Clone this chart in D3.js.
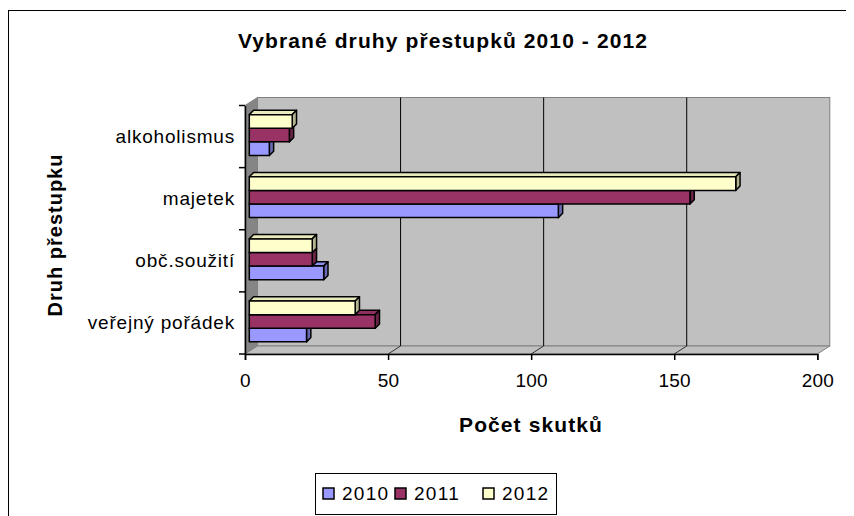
<!DOCTYPE html>
<html>
<head>
<meta charset="utf-8">
<script src="https://cdn.jsdelivr.net/npm/d3@7"></script>
<style>
  body { margin: 0; background: #fff; }
  svg { display: block; font-family: "Liberation Sans", Arial, sans-serif; }
</style>
</head>
<body>
<svg id="chart" width="854" height="516"></svg>
<script>
// data
var categories = ["alkoholismus", "majetek", "obč.soužití", "veřejný pořádek"];
var years = ["2010", "2011", "2012"];
var values2010 = [7, 108, 26, 20];
var values2011 = [14, 154, 22, 44];
var values2012 = [15, 170, 22, 37];
var xTicks = [0, 50, 100, 150, 200];
var colors = ["#9999ff", "#993366", "#ffffcc"];

var seriesValues = [values2010, values2011, values2012];

var svg = d3.select("#chart");

// front plane of the 3d box and depth offsets
var pLeft = 245, pRight = 817.3, pTop = 105.5, pBottom = 354;
var depth = {dx: 12.5, dy: -8};
var barOff = {dx: 4.3, dy: -1.5};   // front face of bars sits inside the box
var barDepth = {dx: 4.3, dy: -4.3};

var x = d3.scaleLinear().domain([0, 200]).range([pLeft, pRight]);
var y = d3.scaleBand().domain(categories).range([pTop, pBottom]);
var inner = d3.scaleBand().domain(years.slice().reverse())
    .range([0, y.bandwidth()]).paddingOuter(0.78);

// frame of the chart area
svg.append("line").attr("x1", 8).attr("x2", 846).attr("y1", 10.5).attr("y2", 10.5)
    .attr("stroke", "#000");
svg.append("line").attr("x1", 8.5).attr("x2", 8.5).attr("y1", 10).attr("y2", 516)
    .attr("stroke", "#000");

// walls
var g = svg.append("g");
g.append("rect")
    .attr("x", pLeft + depth.dx).attr("y", pTop + depth.dy)
    .attr("width", pRight - pLeft).attr("height", pBottom - pTop)
    .attr("fill", "#c0c0c0").attr("stroke", "#808080");
g.append("polygon")
    .attr("points", [[pLeft, pTop], [pLeft + depth.dx, pTop + depth.dy],
        [pLeft + depth.dx, pBottom + depth.dy], [pLeft, pBottom]].join(" "))
    .attr("fill", "#858585").attr("stroke", "#808080");
g.append("polygon")
    .attr("points", [[pLeft, pBottom], [pLeft + depth.dx, pBottom + depth.dy],
        [pRight + depth.dx, pBottom + depth.dy], [pRight, pBottom]].join(" "))
    .attr("fill", "#c0c0c0").attr("stroke", "#808080");

// gridlines on the back wall and the floor
var inside = xTicks.filter(function(d) { return d > 0 && d < 200; });
g.selectAll(".grid").data(inside).enter().append("line")
    .attr("class", "grid")
    .attr("x1", function(d) { return x(d) + depth.dx; })
    .attr("x2", function(d) { return x(d) + depth.dx; })
    .attr("y1", pTop + depth.dy).attr("y2", pBottom + depth.dy)
    .attr("stroke", "#000");
g.selectAll(".floorgrid").data(inside).enter().append("line")
    .attr("class", "floorgrid")
    .attr("x1", function(d) { return x(d); })
    .attr("x2", function(d) { return x(d) + depth.dx; })
    .attr("y1", pBottom).attr("y2", pBottom + depth.dy)
    .attr("stroke", "#333");

// bars, lower bar first so the one above hides its top face
var bars = [];
categories.forEach(function(c, ci) {
    years.forEach(function(yr, si) {
        bars.push({cat: c, year: yr, value: seriesValues[si][ci], color: colors[si]});
    });
});

var bg = svg.append("g").selectAll("g").data(bars).enter().append("g")
    .attr("stroke", "#000").attr("stroke-width", 1.5).attr("stroke-linejoin", "round");

function geom(d) {
    var x0 = x(0) + barOff.dx, x1 = x(d.value) + barOff.dx;
    var y0 = y(d.cat) + inner(d.year) + barOff.dy;
    return {x0: x0, x1: x1, y0: y0, h: inner.bandwidth()};
}

bg.append("polygon")
    .attr("fill", function(d) { return d3.color(d.color).darker(0.25); })
    .attr("points", function(d) {
        var b = geom(d);
        return [[b.x0, b.y0], [b.x0 + barDepth.dx, b.y0 + barDepth.dy],
            [b.x1 + barDepth.dx, b.y0 + barDepth.dy], [b.x1, b.y0]].join(" ");
    });
bg.append("polygon")
    .attr("fill", function(d) { return d3.color(d.color).darker(1); })
    .attr("points", function(d) {
        var b = geom(d);
        return [[b.x1, b.y0], [b.x1 + barDepth.dx, b.y0 + barDepth.dy],
            [b.x1 + barDepth.dx, b.y0 + b.h + barDepth.dy], [b.x1, b.y0 + b.h]].join(" ");
    });
bg.append("rect")
    .attr("fill", function(d) { return d.color; })
    .attr("x", function(d) { return geom(d).x0; })
    .attr("y", function(d) { return geom(d).y0; })
    .attr("width", function(d) { var b = geom(d); return b.x1 - b.x0; })
    .attr("height", function(d) { return geom(d).h; });

// x axis
var xAxis = svg.append("g")
    .attr("transform", "translate(0," + pBottom + ")")
    .call(d3.axisBottom(x).tickValues(xTicks).tickSizeOuter(0).tickSize(6).tickPadding(14));
xAxis.selectAll("path, line").attr("stroke", "#000").attr("stroke-width", 1.5);
xAxis.selectAll("text").attr("fill", "#000")
    .style("font-size", "19px").style("letter-spacing", "0.2px");

// y axis: labels at band centres, ticks at the band edges
var yAxis = svg.append("g")
    .attr("transform", "translate(" + pLeft + ",0)")
    .call(d3.axisLeft(y).tickSize(0).tickSizeOuter(0).tickPadding(10));
yAxis.select("path").attr("stroke", "#000").attr("stroke-width", 1.5);
yAxis.selectAll("text").attr("fill", "#000")
    .style("font-size", "19px").style("letter-spacing", "0.8px");
var edges = categories.map(function(c) { return y(c); }).concat([pBottom]);
yAxis.selectAll(".edge").data(edges).enter().append("line")
    .attr("class", "edge")
    .attr("x1", -6).attr("x2", 0)
    .attr("y1", function(d) { return d; }).attr("y2", function(d) { return d; })
    .attr("stroke", "#000").attr("stroke-width", 1.5);

// titles
svg.append("text")
    .attr("x", 443).attr("y", 48)
    .attr("text-anchor", "middle")
    .style("font-size", "21px").style("font-weight", "bold").style("letter-spacing", "1.1px")
    .text("Vybrané druhy přestupků 2010 - 2012");
svg.append("text")
    .attr("x", 531).attr("y", 432)
    .attr("text-anchor", "middle")
    .style("font-size", "21px").style("font-weight", "bold").style("letter-spacing", "1.1px")
    .text("Počet skutků");
svg.append("text")
    .attr("transform", "translate(62,235) rotate(-90)")
    .attr("text-anchor", "middle")
    .style("font-size", "20px").style("font-weight", "bold").style("letter-spacing", "1px")
    .text("Druh přestupku");

// legend
var legend = svg.append("g");
legend.append("rect")
    .attr("x", 315.5).attr("y", 473.5).attr("width", 241).attr("height", 41)
    .attr("fill", "#fff").attr("stroke", "#000");
var itemX = [323, 395, 483];
var items = legend.selectAll(".item").data(years).enter().append("g")
    .attr("class", "item")
    .attr("transform", function(d, i) { return "translate(" + itemX[i] + ",488)"; });
items.append("rect")
    .attr("width", 11).attr("height", 11)
    .attr("fill", function(d, i) { return colors[i]; })
    .attr("stroke", "#000").attr("stroke-width", 1.5);
items.append("text")
    .attr("x", 19).attr("y", 11.5)
    .style("font-size", "19px").style("letter-spacing", "1.3px")
    .text(function(d) { return d; });
</script>
</body>
</html>
